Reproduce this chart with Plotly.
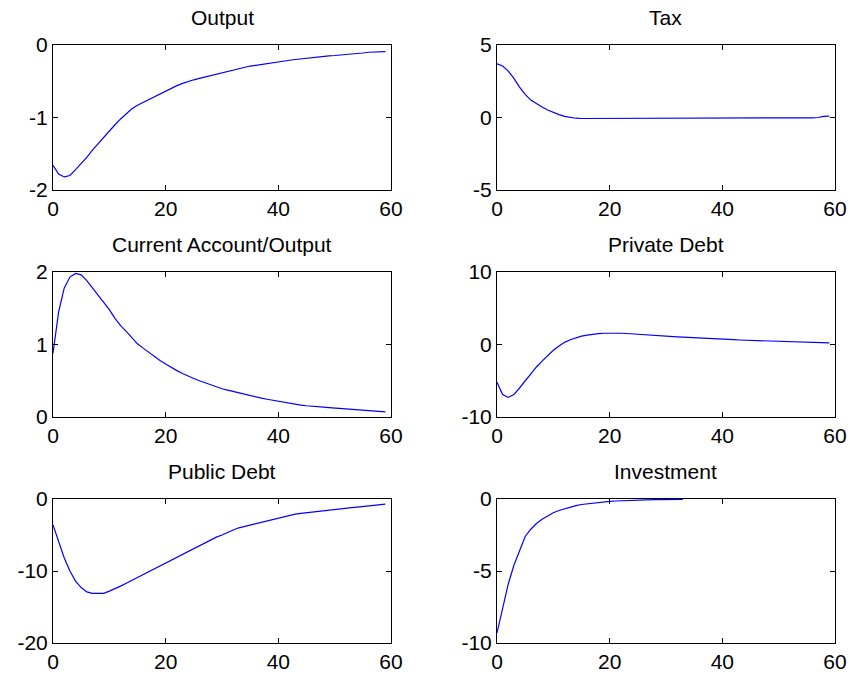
import plotly.graph_objects as go

t = list(range(60))

output = [-1.66, -1.78, -1.82, -1.80, -1.72, -1.64, -1.55, -1.45, -1.36, -1.27,
          -1.18, -1.10, -1.02, -0.95, -0.88, -0.83, -0.79, -0.75, -0.71, -0.67,
          -0.63, -0.60, -0.56, -0.53, -0.50, -0.48, -0.46, -0.44, -0.42, -0.40,
          -0.38, -0.36, -0.34, -0.32, -0.31, -0.29, -0.28, -0.27, -0.25, -0.24,
          -0.23, -0.22, -0.21, -0.20, -0.19, -0.18, -0.17, -0.165, -0.16, -0.15,
          -0.145, -0.14, -0.13, -0.125, -0.12, -0.11, -0.10, -0.10, -0.095, -0.09]

tax = [3.70, 3.55, 3.20, 2.70, 2.10, 1.60, 1.20, 0.95, 0.72, 0.52,
       0.35, 0.20, 0.08, 0.00, -0.05, -0.07, -0.07, -0.07, -0.07, -0.07,
       -0.07, -0.07, -0.07, -0.07, -0.07, -0.07, -0.07, -0.07, -0.07, -0.07,
       -0.06, -0.02, -0.02, -0.02, -0.02, -0.02, -0.02, -0.02, -0.02, -0.02,
       -0.02, -0.02, -0.02, -0.02, -0.02, -0.02, -0.02, -0.02, -0.02, -0.02,
       -0.02, -0.02, -0.02, -0.02, -0.02, -0.02, -0.02, 0.00, 0.08, 0.10]

ca_output = [0.88, 1.45, 1.78, 1.93, 1.98, 1.96, 1.88, 1.78, 1.68, 1.58,
             1.48, 1.36, 1.26, 1.18, 1.10, 1.01, 0.95, 0.89, 0.83, 0.78,
             0.73, 0.68, 0.64, 0.60, 0.56, 0.53, 0.50, 0.47, 0.44, 0.41,
             0.39, 0.37, 0.35, 0.33, 0.31, 0.29, 0.28, 0.26, 0.245, 0.23,
             0.215, 0.20, 0.19, 0.175, 0.165, 0.155, 0.145, 0.14, 0.135, 0.13,
             0.125, 0.12, 0.115, 0.11, 0.105, 0.10, 0.095, 0.09, 0.085, 0.07]

private_debt = [-5.2, -6.9, -7.3, -6.9, -6.0, -5.0, -4.0, -3.1, -2.3, -1.5,
                -0.8, -0.2, 0.3, 0.65, 0.95, 1.15, 1.30, 1.42, 1.50, 1.55,
                1.57, 1.57, 1.55, 1.52, 1.48, 1.43, 1.38, 1.33, 1.28, 1.22,
                1.16, 1.11, 1.06, 1.01, 0.96, 0.91, 0.87, 0.83, 0.79, 0.75,
                0.72, 0.69, 0.66, 0.62, 0.59, 0.56, 0.53, 0.50, 0.47, 0.44,
                0.41, 0.38, 0.36, 0.34, 0.32, 0.30, 0.28, 0.26, 0.24, 0.22]

public_debt = [-3.6, -5.9, -8.2, -10.0, -11.4, -12.3, -12.9, -13.1, -13.1, -13.1,
               -12.8, -12.5, -12.1, -11.7, -11.3, -10.9, -10.4, -10.0, -9.6, -9.2,
               -8.8, -8.4, -8.0, -7.6, -7.2, -6.8, -6.4, -6.1, -5.7, -5.3,
               -5.0, -4.6, -4.3, -4.0, -3.8, -3.6, -3.4, -3.2, -3.0, -2.8,
               -2.6, -2.4, -2.25, -2.1, -2.0, -1.9, -1.8, -1.7, -1.6, -1.5,
               -1.42, -1.35, -1.28, -1.2, -1.12, -1.05, -0.97, -0.9, -0.8, -0.7]

t_inv = list(range(34))
investment = [-9.3, -7.6, -5.9, -4.6, -3.6, -2.6, -2.1, -1.7, -1.4, -1.15,
              -0.95, -0.8, -0.68, -0.55, -0.46, -0.38, -0.33, -0.27, -0.22, -0.18,
              -0.16, -0.14, -0.12, -0.11, -0.08, -0.06, -0.05, -0.05, -0.04, -0.04,
              -0.04, -0.03, -0.03, -0.03]

titles = ["Output", "Tax", "Current Account/Output", "Private Debt", "Public Debt", "Investment"]
x_ticks = [0, 20, 40, 60]
y_ticks = [[-2, -1, 0], [-5, 0, 5], [0, 1, 2], [-10, 0, 10], [-20, -10, 0], [-10, -5, 0]]

series = [(t, output), (t, tax), (t, ca_output), (t, private_debt), (t, public_debt), (t_inv, investment)]

W, H = 850, 679
x_doms = [[53 / W, 391 / W], [497 / W, 835 / W]]
rows_px = [(45, 190), (272, 417), (499, 643)]
y_doms = [[1 - b / H, 1 - a / H] for a, b in rows_px]

fig = go.Figure()
font = dict(family="Liberation Sans, Arial, sans-serif", size=21, color="black")
layout = dict(width=W, height=H, margin=dict(l=0, r=0, t=0, b=0, autoexpand=False),
              paper_bgcolor="white", plot_bgcolor="white", showlegend=False, font=font)
annotations = []
for i in range(6):
    r, c = divmod(i, 2)
    n = i + 1
    xa = "xaxis" if n == 1 else f"xaxis{n}"
    ya = "yaxis" if n == 1 else f"yaxis{n}"
    xs, ys = series[i]
    fig.add_trace(go.Scatter(x=xs, y=ys, mode="lines",
                             line=dict(color="#0000ff", width=1.2),
                             xaxis=f"x{n}" if n > 1 else "x",
                             yaxis=f"y{n}" if n > 1 else "y"))
    common = dict(showline=True, mirror="ticks", linecolor="black", linewidth=1,
                  ticks="inside", ticklen=5, tickcolor="black", tickwidth=1,
                  showgrid=False, zeroline=False, tickfont=font, automargin=False)
    yt = y_ticks[i]
    layout[xa] = dict(domain=x_doms[c], range=[x_ticks[0], x_ticks[-1]],
                      tickmode="array", tickvals=x_ticks, ticktext=[str(v) for v in x_ticks],
                      anchor=f"y{n}" if n > 1 else "y", **common)
    layout[ya] = dict(domain=y_doms[r], range=[yt[0], yt[-1]],
                      tickmode="array", tickvals=yt, ticktext=[str(v) for v in yt],
                      anchor=f"x{n}" if n > 1 else "x", **common)
    annotations.append(dict(text=titles[i], xref="paper", yref="paper",
                            x=sum(x_doms[c]) / 2, y=y_doms[r][1],
                            xanchor="center", yanchor="bottom", yshift=14,
                            showarrow=False, font=font))
layout["annotations"] = annotations
fig.update_layout(**layout)
fig.write_html("out.html", config={"displayModeBar": False},
               post_script="document.body.style.margin='0';document.body.style.overflow='hidden';")
